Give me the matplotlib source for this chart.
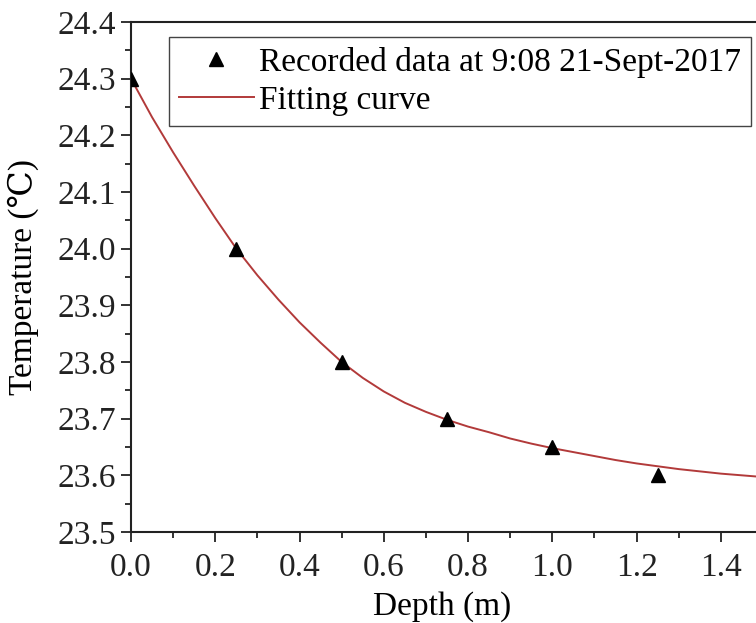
import matplotlib
matplotlib.use("Agg")
import matplotlib.pyplot as plt
from matplotlib.ticker import MultipleLocator, FormatStrFormatter

# recorded points
depth = [0.0, 0.25, 0.5, 0.75, 1.0, 1.25]
temp = [24.30, 24.00, 23.80, 23.70, 23.65, 23.60]

# fitting curve
curve_depth = [0.0, 0.05, 0.10, 0.15, 0.20, 0.25, 0.30, 0.35, 0.40, 0.45,
               0.50, 0.55, 0.60, 0.65, 0.70, 0.75, 0.80, 0.85, 0.90, 0.95,
               1.00, 1.05, 1.10, 1.15, 1.20, 1.25, 1.30, 1.35, 1.40, 1.45, 1.50]
curve_temp = [24.300, 24.232, 24.170, 24.111, 24.054, 24.000, 23.953, 23.910,
              23.870, 23.834, 23.800, 23.772, 23.748, 23.728, 23.712, 23.698,
              23.686, 23.676, 23.665, 23.656, 23.648, 23.641, 23.634, 23.627,
              23.621, 23.616, 23.611, 23.607, 23.603, 23.600, 23.597]

data_label = "Recorded data at 9:08 21-Sept-2017"
fit_label = "Fitting curve"

plt.rcParams['font.family'] = ['Liberation Serif', 'DejaVu Serif']

fig = plt.figure(figsize=(7.56, 6.23), dpi=100)
ax = fig.add_axes([131 / 756, 91 / 623, 632 / 756, 510 / 623])

ax.plot(curve_depth, curve_temp, color='#b23a3a', lw=1.4, label=fit_label, zorder=2)
ax.plot(depth, temp, linestyle='none', marker='^', color='black', markersize=9.5,
        label=data_label, zorder=3)

ax.set_xlim(0, 1.5)
ax.set_ylim(23.5, 24.4)
ax.xaxis.set_major_locator(MultipleLocator(0.2))
ax.xaxis.set_minor_locator(MultipleLocator(0.1))
ax.yaxis.set_major_locator(MultipleLocator(0.1))
ax.yaxis.set_minor_locator(MultipleLocator(0.05))
ax.xaxis.set_major_formatter(FormatStrFormatter('%.1f'))
ax.yaxis.set_major_formatter(FormatStrFormatter('%.1f'))

ax.tick_params(which='both', direction='out', width=1.3, labelsize=24,
               top=False, right=False, colors='#222222')
ax.tick_params(axis='x', pad=7)
ax.tick_params(axis='y', pad=3)
ax.tick_params(which='major', length=7.5)
ax.tick_params(which='minor', length=4.5)
for s in ax.spines.values():
    s.set_linewidth(1.5)
    s.set_color('#222222')

ax.set_xlabel("Depth (m)", fontsize=24)
ax.set_ylabel("Temperature (℃)", fontsize=24)
ax.xaxis.set_label_coords(0.492, -0.116)
ax.yaxis.set_label_coords(-0.146, 0.5)

handles, labels = ax.get_legend_handles_labels()
leg = ax.legend(handles[::-1], labels[::-1], loc='upper left',
                bbox_to_anchor=(0.060, 0.971), fontsize=24, numpoints=1,
                handlelength=2.25, handletextpad=0.15, borderpad=0.3,
                labelspacing=0.22, borderaxespad=0, fancybox=False,
                edgecolor='#444444', framealpha=1)
leg.get_frame().set_linewidth(1.0)

fig.savefig("out.png", dpi=100)
